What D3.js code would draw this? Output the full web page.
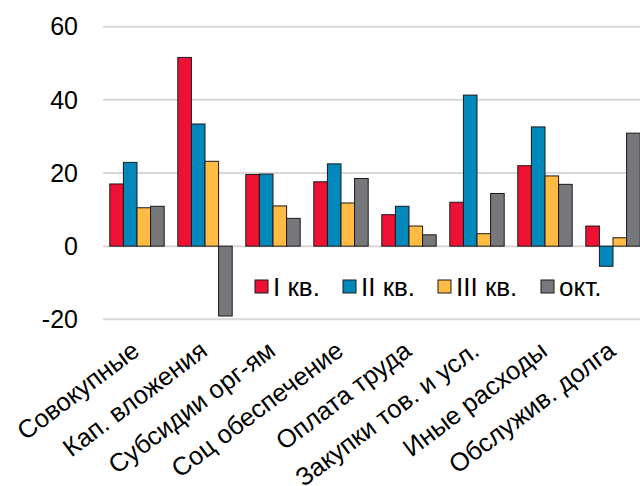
<!DOCTYPE html>
<html><head><meta charset="utf-8">
<script src="https://cdn.jsdelivr.net/npm/d3@7"></script>
<style>
html,body{margin:0;padding:0;background:#fff;overflow:hidden}
svg{display:block;font-family:"Liberation Sans",Arial,sans-serif}
</style></head>
<body><svg id="c" width="640" height="486"></svg>
<script>
const categories = ["Совокупные","Кап. вложения","Субсидии орг-ям","Соц обеспечение","Оплата труда","Закупки тов. и усл.","Иные расходы","Обслужив. долга"];
const seriesNames = ["I кв.","II кв.","III кв.","окт."];
const q1 = [17.0, 51.6, 19.6, 17.6, 8.6, 12.0, 22.0, 5.5];
const q2 = [22.9, 33.4, 19.7, 22.5, 10.9, 41.3, 32.6, -5.5];
const q3 = [10.5, 23.2, 11.0, 11.8, 5.5, 3.4, 19.2, 2.3];
const oct = [10.9, -19.1, 7.6, 18.5, 3.1, 14.4, 16.9, 30.9];
const yTicks = [-20, 0, 20, 40, 60];
const colors = ["#EE1133","#0088BB","#FFBB44","#77787B"];

const series = [q1,q2,q3,oct];
const svg = d3.select("#c");
const y = d3.scaleLinear().domain([-20,60]).range([319.3,26.7]);
const x = d3.scaleBand().domain(categories).range([103,647]);
const xs = d3.scaleBand().domain(d3.range(4)).range([x.bandwidth()*0.1, x.bandwidth()*0.9]);

// gridlines
svg.append("g").selectAll("line").data(yTicks).join("line")
  .attr("x1",103).attr("x2",647)
  .attr("y1",d=>y(d)).attr("y2",d=>y(d))
  .attr("stroke","#D9D9D9").attr("stroke-width",2);

// y labels
svg.append("g").selectAll("text").data(yTicks).join("text")
  .attr("x",78).attr("y",d=>y(d)).attr("dy","0.35em")
  .attr("text-anchor","end").attr("font-size",25).attr("fill","#000")
  .text(d=>d);

// bars
const g = svg.append("g");
categories.forEach((c,i)=>{
  series.forEach((s,j)=>{
    const v = s[i];
    g.append("rect")
      .attr("x", x(c)+xs(j))
      .attr("width", xs.bandwidth())
      .attr("y", y(Math.max(0,v)))
      .attr("height", Math.abs(y(v)-y(0)))
      .attr("fill", colors[j])
      .attr("stroke","#1a1a1a").attr("stroke-width",1);
  });
});

// category labels
svg.append("g").selectAll("text").data(categories).join("text")
  .attr("transform",d=>`translate(${x(d)+x.bandwidth()/2+4},354) rotate(-37)`)
  .attr("text-anchor","end").attr("font-size",25.5).attr("fill","#000")
  .text(d=>d);

// legend
const lg = svg.append("g");
const lx = [255, 343, 438, 541];
seriesNames.forEach((n,j)=>{
  lg.append("rect").attr("x",lx[j]).attr("y",280).attr("width",13).attr("height",13)
    .attr("fill",colors[j]).attr("stroke","#1a1a1a").attr("stroke-width",1);
  lg.append("text").attr("x",lx[j]+18).attr("y",296).attr("font-size",26).attr("fill","#000").text(n);
});
</script></body></html>
